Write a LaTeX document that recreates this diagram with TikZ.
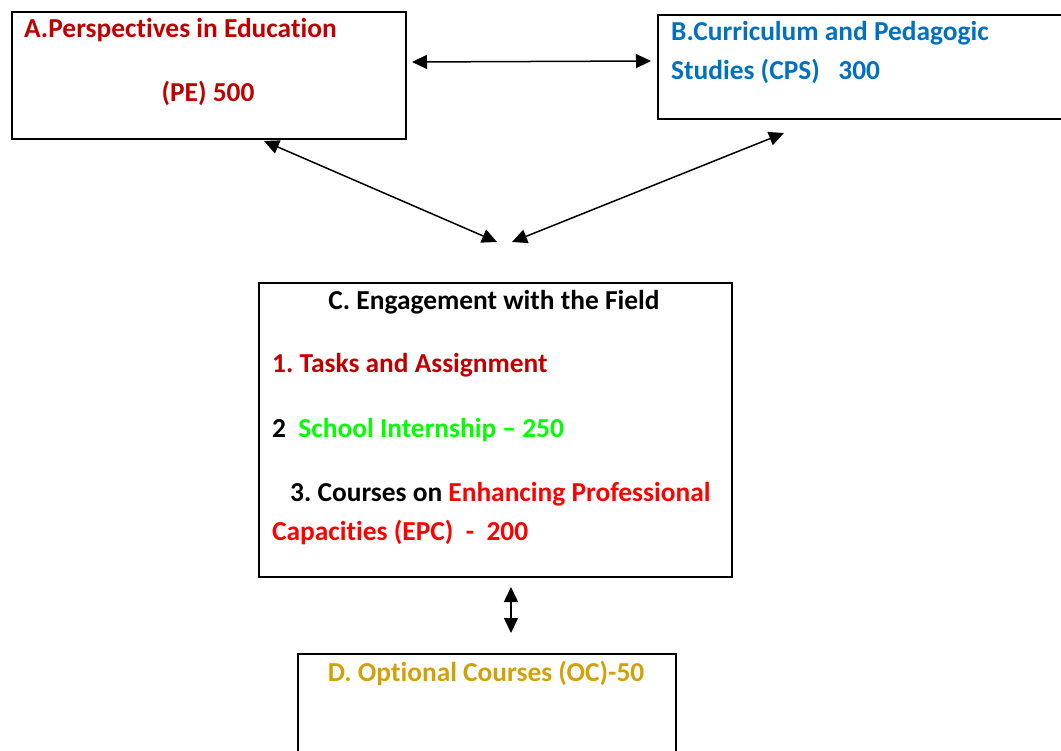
\documentclass[tikz,border=0pt]{standalone}
\usepackage{fontspec}
\setmainfont[Ligatures=NoCommon]{Carlito}
\usetikzlibrary{arrows.meta}
\frenchspacing

\definecolor{peRed}{RGB}{192,0,0}
\definecolor{cpsBlue}{RGB}{0,112,192}
\definecolor{siGreen}{RGB}{0,255,0}
\definecolor{epcRed}{RGB}{255,0,0}
\definecolor{ocGold}{RGB}{212,160,10}

\begin{document}
\begin{tikzpicture}[x=1pt, y=-1pt, line cap=round,
  font=\fontsize{27.4}{32}\selectfont\bfseries,
  box/.style={draw, line width=2pt, anchor=north west, inner sep=0pt},
  txt/.style={anchor=base west, inner sep=0pt},
  link/.style={line width=1.5pt, {Triangle[length=15pt,width=14pt]}-{Triangle[length=15pt,width=14pt]}}]

  % frame
  \useasboundingbox (0,0) rectangle (1061,751);
  \clip (0,0) rectangle (1061,751);

  % boxes
  \node[box, minimum width=394pt, minimum height=127pt] (A) at (11,11) {};
  \node[box, minimum width=420pt, minimum height=104pt] (B) at (657,14) {};
  \node[box, minimum width=473pt, minimum height=294pt] (C) at (258,282) {};
  \node[box, minimum width=378pt, minimum height=140pt] (D) at (297,653) {};

  % texts
  \node[txt, text=peRed] (A1) at (24,38) {A.Perspectives in Education};
  \node[anchor=base, inner sep=0pt, text=peRed] (A2) at (208,102) {(PE) 500};
  \node[txt, text=cpsBlue] (B1) at (671,41) {B.Curriculum and Pedagogic};
  \node[txt, text=cpsBlue] (B2) at (671,80) {Studies (CPS)\ \ \ 300};
  \node[anchor=base, inner sep=0pt] (C0) at (494,310) {C. Engagement with the Field};
  \node[txt, text=peRed] (C1) at (272,373) {1. Tasks and Assignment};
  \node[txt] (C2) at (272,437) {2\ \ \textcolor{siGreen}{School Internship -- 250}};
  \node[txt] (C3) at (290,501) {3. Courses on \textcolor{epcRed}{Enhancing Professional}};
  \node[txt, text=epcRed] (C4) at (272,540) {Capacities (EPC)\ \ -\ \ 200};
  \node[anchor=base, inner sep=0pt, text=ocGold] (D1) at (486,681) {D. Optional Courses (OC)-50};

  % arrow ends
  \coordinate (ab1) at (412,62);
  \coordinate (ab2) at (651,61);
  \coordinate (ac1) at (264,141);
  \coordinate (ac2) at (497,242);
  \coordinate (bc1) at (784,133);
  \coordinate (bc2) at (512,242);
  \coordinate (cd1) at (511,587);
  \coordinate (cd2) at (511,633);

  % arrows
  \draw[link] (ab1) -- (ab2);
  \draw[link] (ac1) -- (ac2);
  \draw[link] (bc1) -- (bc2);
  \draw[link] (cd1) -- (cd2);
\end{tikzpicture}
\end{document}
